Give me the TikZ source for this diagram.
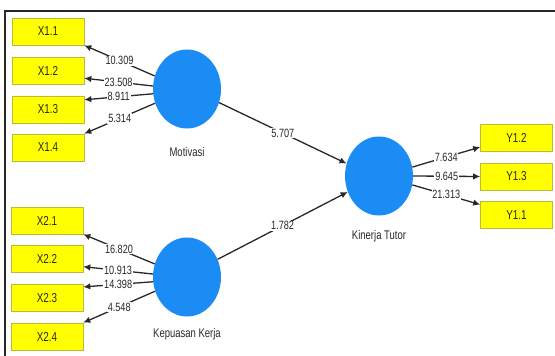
\documentclass[tikz,border=0pt]{standalone}
\usepackage{fontspec}
\setmainfont{Liberation Sans}[FakeStretch=0.76]
\usetikzlibrary{shapes.geometric,arrows.meta}
\definecolor{boxfill}{RGB}{255,255,0}
\definecolor{boxline}{RGB}{185,185,60}
\definecolor{lv}{RGB}{28,140,245}
\definecolor{ink}{RGB}{40,40,40}
\tikzset{
  ind/.style={draw=boxline, fill=boxfill, line width=0.6pt, minimum width=72pt, minimum height=27pt, inner sep=0pt, font=\fontsize{13}{14}\selectfont, text=ink},
  latent/.style={ellipse, fill=lv, draw=none, minimum width=68pt, minimum height=79pt, inner sep=0pt},
  lvlabel/.style={font=\fontsize{12.5}{13}\selectfont, text=ink},
  path/.style={draw=ink, line width=1.3pt, -{Latex[length=7pt,width=6.5pt]}},
  coef/.style={fill=white, inner sep=0.8pt, font=\fontsize{12}{12}\selectfont, text=ink, midway}
}
\begin{document}
\begin{tikzpicture}[x=1pt,y=-1pt]
\useasboundingbox (0,0) rectangle (555,356);
\fill[white] (0,0) rectangle (555,356);
\draw[ink, line width=1.5pt] (555,11) -- (5,11) -- (5,356);
% indicators
\node[ind] (X11) at (48,31.5) {X1.1};
\node[ind] (X12) at (48,70.5) {X1.2};
\node[ind] (X13) at (48,109.5) {X1.3};
\node[ind] (X14) at (48,147.5) {X1.4};
\node[ind] (X21) at (47,220.5) {X2.1};
\node[ind] (X22) at (47,259) {X2.2};
\node[ind] (X23) at (47,298) {X2.3};
\node[ind] (X24) at (47,336.5) {X2.4};
\node[ind] (Y12) at (516.5,138) {Y1.2};
\node[ind] (Y13) at (516.5,176.5) {Y1.3};
\node[ind] (Y11) at (516.5,215) {Y1.1};
% latent variables
\node[latent] (M) at (187,89) {};
\node[latent] (K) at (187,277) {};
\node[latent] (T) at (379,176) {};
\node[lvlabel] (ML) at (187,152) {Motivasi};
\node[lvlabel] (KL) at (187,334) {Kepuasan Kerja};
\node[lvlabel] (TL) at (379,236) {Kinerja Tutor};
% outer loadings Motivasi
\draw[path] (M.158) -- node[coef] {10.309} (X11.south east);
\draw[path] (M.175) -- node[coef] {23.508} (X12.-12);
\draw[path] (M.188) -- node[coef] {8.911} (X13.15);
\draw[path] (M.204) -- node[coef] {5.314} (X14.north east);
% outer loadings Kepuasan Kerja
\draw[path] (K.158) -- node[coef] {16.820} (X21.south east);
\draw[path] (K.175) -- node[coef] {10.913} (X22.-12);
\draw[path] (K.188) -- node[coef] {14.398} (X23.17);
\draw[path] (K.204) -- node[coef] {4.548} (X24.north east);
% inner paths
\draw[path] (M.-23) -- node[coef] {5.707} (T.159);
\draw[path] (K.30) -- node[coef] {1.782} (T.207);
% Kinerja Tutor loadings
\draw[path] (T.15) -- node[coef] {7.634} (Y12.-166);
\draw[path] (T.0) -- node[coef] {9.645} (Y13.west);
\draw[path] (T.-15) -- node[coef] {21.313} (Y11.164);
\end{tikzpicture}
\end{document}
